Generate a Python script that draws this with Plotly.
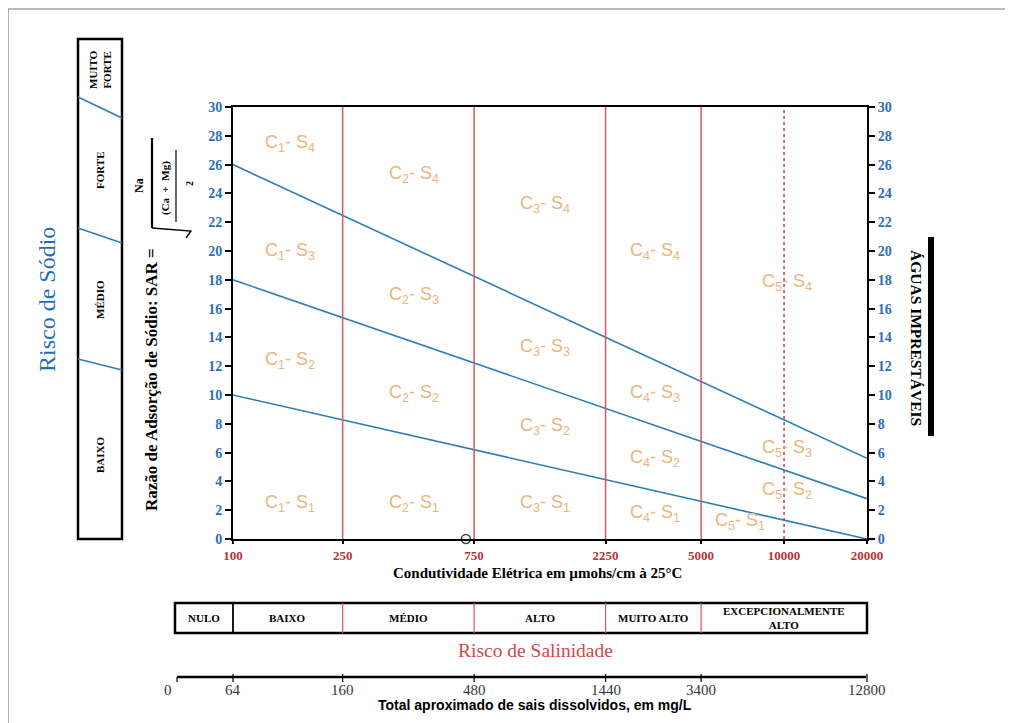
import math
import plotly.graph_objects as go

# ---------------- data ----------------
ec_range = [100, 20000]                      # electrical conductivity (µmhos/cm)
sar_s1_s2 = [10.0, 0.0]                      # S1/S2 boundary at EC=100 and EC=20000
sar_s2_s3 = [18.0, 2.8]                      # S2/S3 boundary
sar_s3_s4 = [26.0, 5.6]                      # S3/S4 boundary
ec_class_limits = [250, 750, 2250, 5000]     # C1|C2|C3|C4|C5 limits
ec_dotted = [10000]
ec_ticks = [100, 250, 750, 2250, 5000, 10000, 20000]
sar_ticks = list(range(0, 31, 2))

zone_labels = [
    ("1", "4", 161, 27.5), ("2", "4", 454, 25.3), ("3", "4", 1357, 23.2),
    ("4", "4", 3400, 20.0), ("5", "4", 10250, 17.8),
    ("1", "3", 161, 20.0), ("2", "3", 454, 16.9), ("3", "3", 1357, 13.3),
    ("4", "3", 3400, 10.1), ("5", "3", 10250, 6.3),
    ("1", "2", 161, 12.4), ("2", "2", 454, 10.1), ("3", "2", 1357, 7.8),
    ("4", "2", 3400, 5.6), ("5", "2", 10250, 3.4),
    ("1", "1", 161, 2.5), ("2", "1", 454, 2.5), ("3", "1", 1357, 2.5),
    ("4", "1", 3400, 1.8), ("5", "1", 6920, 1.2),
]

sample_ec = [700]
sample_sar = [0]

salinity_classes = ["NULO", "BAIXO", "MÉDIO", "ALTO", "MUITO ALTO", "EXCEPCIONALMENTE<br>ALTO"]
salinity_limits = [100, 250, 750, 2250, 5000]      # dividers in the salinity box
tds_labels = ["64", "160", "480", "1440", "3400", "12800"]
tds_at_ec = [100, 250, 750, 2250, 5000, 20000]

sodium_classes = ["MUITO<br>FORTE", "FORTE", "MÉDIO", "BAIXO"]

# ---------------- layout helpers ----------------
OFF = 8                      # page body margin
W, H = 1013 - OFF, 723 - OFF
L, R, T, B = 233, 867, 107, 539      # plot area in page pixels
def pxx(x):
    return (x - L) / (R - L)
def pyy(y):
    return (B - y) / (B - T)
def ecp(v):
    return (math.log10(v) - math.log10(ec_range[0])) / (math.log10(ec_range[1]) - math.log10(ec_range[0]))
def ecpx(v):
    return L + ecp(v) * (R - L)

SERIF = "Liberation Serif, Times New Roman, serif"
SANS = "Liberation Sans, Arial, sans-serif"
BLUE_LINE = "#2C7DB8"
RED_LINE = "#D65A5A"
LABEL_COL = "#EAB57C"
TICK_BLUE = "#2A6EBB"
TICK_RED = "#B83232"

fig = go.Figure()

for ys in (sar_s1_s2, sar_s2_s3, sar_s3_s4):
    fig.add_trace(go.Scatter(x=ec_range, y=ys, mode="lines",
                             line=dict(color=BLUE_LINE, width=1.6),
                             hoverinfo="skip", showlegend=False))
for v in ec_class_limits:
    fig.add_trace(go.Scatter(x=[v, v], y=[0, 30], mode="lines",
                             line=dict(color=RED_LINE, width=1.5),
                             hoverinfo="skip", showlegend=False))
for v in ec_dotted:
    fig.add_trace(go.Scatter(x=[v, v], y=[0, 30], mode="lines",
                             line=dict(color="#B04848", width=1.5, dash="dot"),
                             hoverinfo="skip", showlegend=False))
fig.add_trace(go.Scatter(x=sample_ec, y=sample_sar, mode="markers",
                         marker=dict(symbol="circle-open", size=9, color="#444",
                                     line=dict(width=1.6, color="#444")),
                         cliponaxis=False, showlegend=False))
# dummy trace for right axis
fig.add_trace(go.Scatter(x=[ec_range[0]], y=[0], yaxis="y2", mode="markers",
                         marker=dict(opacity=0), hoverinfo="skip", showlegend=False))

ann = []
for c, s, xv, yv in zone_labels:
    ann.append(dict(x=math.log10(xv), y=yv, xref="x", yref="y",
                    text=f"C<sub>{c}</sub>- S<sub>{s}</sub>", showarrow=False,
                    font=dict(family=SANS, size=18, color=LABEL_COL)))

def pann(x, y, text, size, color="black", family=SERIF, angle=0, bold=False, xanchor="center"):
    if bold:
        text = f"<b>{text}</b>"
    ann.append(dict(x=pxx(x), y=pyy(y), xref="paper", yref="paper", text=text,
                    showarrow=False, textangle=angle, xanchor=xanchor, yanchor="middle",
                    font=dict(family=family, size=size, color=color)))

# axis titles
pann(537, 573, "Condutividade Elétrica em µmohs/cm à 25°C", 15, bold=True)
pann(151, 380, "Razão de Adsorção de Sódio: SAR =", 17, angle=-90, bold=True)
pann(139, 186, "Na", 12, angle=-90, bold=True)
pann(165, 188, "(Ca  +  Mg)", 11, angle=-90, bold=True)
pann(189, 184, "2", 10, angle=-90, bold=True)

# side texts
pann(47, 300, "Risco de Sódio", 24, color="#1F6FB8", angle=-90)
pann(917, 338, "ÁGUAS IMPRESTÁVEIS", 15.5, angle=90, bold=True)
pann(535, 650, "Risco de Salinidade", 19.5, color="#D24848")
pann(535, 705, "Total aproximado de sais dissolvidos, em mg/L", 14,
     family="Liberation Sans Narrow, Liberation Sans, Arial", bold=True)

# sodium box texts
sod_y = [70, 170, 300, 455]
for t, yv in zip(sodium_classes, sod_y):
    pann(100, yv, t, 11, angle=-90, bold=True)

# salinity box texts
box_edges = [175] + [ecpx(v) for v in salinity_limits] + [867]
for i, t in enumerate(salinity_classes):
    pann((box_edges[i] + box_edges[i + 1]) / 2, 618, t, 11, bold=True)

# TDS scale labels
pann(168, 690, "0", 15, color="#2F3A3A")
for t, v in zip(tds_labels, tds_at_ec):
    pann(ecpx(v), 690, t, 15, color="#2F3A3A")

shapes = []
def pline(x0, y0, x1, y1, color="black", width=1.0, dash=None):
    d = dict(type="line", xref="paper", yref="paper", x0=pxx(x0), y0=pyy(y0),
             x1=pxx(x1), y1=pyy(y1), line=dict(color=color, width=width))
    if dash:
        d["line"]["dash"] = dash
    shapes.append(d)

# outer frame
pline(8, 9, 1013, 9, color="#777", width=1.2)
pline(8, 9, 8, 723, color="#777", width=1.2)

# SAR formula bars
pline(152, 138, 152, 228, width=2.2)
pline(176, 150, 176, 222, width=1.2)
shapes.append(dict(type="path", xref="paper", yref="paper",
                   path=f"M {pxx(152)} {pyy(228)} L {pxx(191)} {pyy(231)} L {pxx(186)} {pyy(238)}",
                   line=dict(color="black", width=1.3)))

# sodium risk box
shapes.append(dict(type="rect", xref="paper", yref="paper", x0=pxx(78), y0=pyy(39),
                   x1=pxx(122), y1=pyy(539), line=dict(color="black", width=2.5)))
for a, b in [(97, 118), (228, 243), (359, 370)]:
    pline(78, a, 122, b, color=BLUE_LINE, width=1.5)

# salinity box
shapes.append(dict(type="rect", xref="paper", yref="paper", x0=pxx(175), y0=pyy(603),
                   x1=pxx(867), y1=pyy(633), line=dict(color="black", width=2.5)))
for i, v in enumerate(salinity_limits):
    x = ecpx(v)
    pline(x, 603, x, 633, color="black" if i == 0 else RED_LINE, width=1.8 if i == 0 else 1.2)

# TDS scale line
pline(177, 677, 866, 677, width=2.5)
pline(177, 677, 177, 682, width=1.2)
for v in tds_at_ec:
    x = ecpx(v)
    pline(x, 674, x, 682, width=1.2)

# Aguas imprestaveis bar
pline(931, 237, 931, 436, width=6)

axis_common = dict(showgrid=False, zeroline=False)
fig.update_layout(
    width=W, height=H,
    margin=dict(l=L - OFF, r=W - (R - OFF), t=T - OFF, b=H - (B - OFF)),
    paper_bgcolor="white", plot_bgcolor="white",
    showlegend=False,
    xaxis=dict(type="log", range=[math.log10(ec_range[0]), math.log10(ec_range[1])],
               tickvals=ec_ticks, ticktext=[f"<b>{v}</b>" for v in ec_ticks],
               tickfont=dict(family=SERIF, size=13, color=TICK_RED),
               ticks="outside", ticklen=3, tickwidth=1.5, tickcolor="black",
               showline=True, linecolor="black", linewidth=2, mirror=True,
               **axis_common),
    yaxis=dict(range=[0, 30], tickvals=sar_ticks, ticktext=[f"<b>{v}</b>" for v in sar_ticks],
               tickfont=dict(family=SERIF, size=14, color=TICK_BLUE),
               ticks="outside", ticklen=6, tickwidth=1.5, tickcolor="black",
               showline=True, linecolor="black", linewidth=2, **axis_common),
    yaxis2=dict(range=[0, 30], overlaying="y", side="right",
                tickvals=sar_ticks, ticktext=[f"<b>{v}</b>" for v in sar_ticks],
                tickfont=dict(family=SERIF, size=14, color=TICK_BLUE),
                ticks="outside", ticklen=6, tickwidth=1.5, tickcolor="black",
                showline=True, linecolor="black", linewidth=2, **axis_common),
    annotations=ann,
    shapes=shapes,
)

fig.write_html("out.html")
